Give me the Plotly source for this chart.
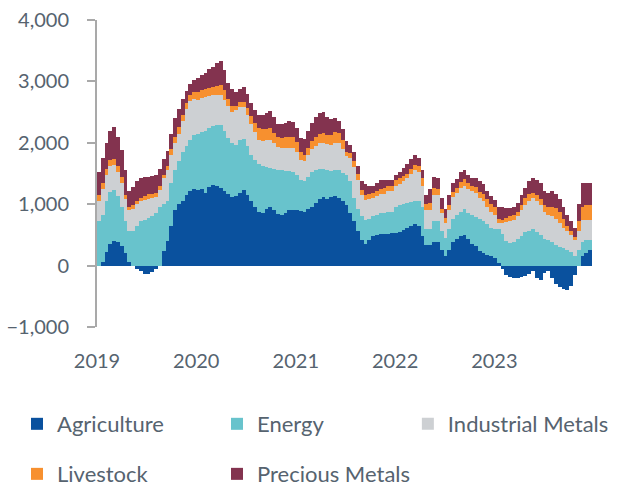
import pandas as pd
import plotly.graph_objects as go

# Biweekly readings, Jan 2019 - Dec 2023
dates = pd.date_range("2019-01-08", periods=130, freq="14D")

agriculture = [0, 60, 220, 350, 400, 380, 320, 200, 60, 0, -50, -90, -130, -140, -110, -60, 0, 230, 400, 650, 900, 1000, 1050, 1150, 1220, 1240,
               1230, 1240, 1190, 1280, 1320, 1300, 1260, 1220, 1160, 1120, 1130, 1190, 1230, 1150, 1050, 950, 880, 860, 930, 960, 900, 840, 830, 850, 900, 910,
               900, 890, 880, 920, 960, 1020, 1080, 1110, 1090, 1120, 1130, 1100, 1060, 990, 860, 720, 560, 420, 350, 420, 490, 500, 510, 510, 520, 530,
               530, 550, 580, 610, 640, 670, 640, 480, 340, 330, 390, 380, 250, 150, 250, 380, 430, 480, 500, 430, 360, 320, 230, 200, 180, 150,
               130, 40, -60, -150, -180, -200, -200, -190, -170, -130, -90, -200, -230, -120, -80, -200, -300, -350, -380, -390, -330, -150, 0, 150, 200, 250]

energy = [720, 760, 830, 850, 830, 750, 630, 520, 500, 560, 650, 720, 750, 780, 800, 860, 950, 770, 650, 700, 650, 700, 800, 800, 830, 880,
          920, 940, 1010, 960, 950, 990, 1030, 980, 920, 870, 840, 850, 840, 800, 750, 770, 770, 760, 670, 630, 670, 720, 720, 690, 640, 620,
          580, 510, 500, 530, 560, 540, 490, 460, 470, 420, 430, 460, 450, 480, 520, 380, 360, 380, 390, 340, 310, 330, 350, 350, 360, 340,
          420, 430, 420, 410, 400, 390, 410, 480, 260, 270, 330, 340, 310, 300, 350, 380, 390, 400, 420, 430, 460, 470, 530, 530, 500, 470,
          470, 550, 520, 400, 370, 380, 430, 490, 540, 570, 590, 550, 500, 440, 420, 390, 330, 300, 280, 260, 220, 160, 250, 240, 210, 170]

industrial_metals = [340, 430, 430, 420, 410, 400, 400, 360, 360, 370, 350, 325, 320, 310, 300, 260, 280, 420, 510, 450, 450, 450, 500, 600, 630, 600,
                     550, 550, 550, 530, 510, 490, 490, 500, 520, 510, 560, 540, 510, 500, 500, 460, 400, 410, 440, 460, 420, 370, 370, 380, 380, 380,
                     370, 320, 320, 350, 380, 390, 420, 430, 420, 420, 440, 430, 390, 320, 380, 500, 480, 350, 330, 320, 300, 300, 300, 310, 340, 340,
                     350, 350, 380, 400, 460, 500, 470, 340, 300, 300, 430, 430, 290, 250, 300, 360, 370, 380, 380, 380, 390, 390, 340, 330, 280, 250,
                     220, 110, 180, 310, 350, 360, 370, 410, 440, 480, 510, 500, 480, 440, 410, 410, 430, 400, 340, 300, 280, 260, 310, 360, 340, 330]

livestock = [90, 90, 100, 100, 90, 90, 90, 70, 30, 50, 60, 60, 70, 70, 70, 65, 60, 60, 60, 100, 100, 100, 100, 100, 100, 110,
             130, 130, 130, 130, 130, 140, 160, 160, 120, 100, 70, 80, 90, 110, 130, 150, 190, 190, 190, 190, 170, 160, 160, 170, 180, 190,
             170, 130, 100, 120, 130, 150, 160, 160, 140, 170, 180, 170, 150, 60, 80, 100, 100, 80, 80, 90, 90, 90, 90, 90, 80, 90,
             90, 90, 80, 80, 80, 80, 100, 120, 100, 120, 110, 90, 80, 70, 80, 80, 70, 100, 110, 100, 90, 100, 100, 100, 120, 130,
             130, 60, 40, 70, 80, 80, 80, 90, 120, 110, 90, 100, 100, 100, 130, 160, 180, 180, 140, 80, 60, 50, 160, 210, 230, 240]

precious_metals = [380, 410, 420, 480, 520, 480, 440, 400, 270, 300, 320, 325, 300, 290, 290, 295, 290, 250, 250, 250, 300, 300, 270, 200, 180, 190,
                   230, 240, 260, 300, 320, 380, 390, 320, 260, 280, 220, 220, 240, 230, 220, 210, 220, 230, 260, 270, 260, 220, 220, 240, 250, 240,
                   220, 230, 260, 280, 300, 320, 330, 340, 300, 250, 220, 200, 180, 180, 120, 150, 120, 150, 180, 120, 110, 130, 150, 130, 100, 90,
                   90, 100, 130, 160, 160, 160, 140, 140, 150, 230, 190, 180, 170, 150, 170, 150, 150, 160, 150, 130, 130, 140, 180, 170, 140, 130,
                   120, 200, 210, 160, 140, 140, 140, 160, 170, 210, 230, 250, 270, 240, 220, 260, 230, 200, 200, 180, 160, 150, 280, 380, 370, 350]

series_names = ["Agriculture", "Energy", "Industrial Metals", "Livestock", "Precious Metals"]
series_values = [agriculture, energy, industrial_metals, livestock, precious_metals]
series_colors = ["#0a519e", "#68c3cc", "#cdd0d3", "#f7902f", "#83334f"]
series_legends = ["legend", "legend", "legend3", "legend2", "legend2"]

year_ticks = ["2019-01-01", "2020-01-01", "2021-01-01", "2022-01-01", "2023-01-01"]
year_labels = ["2019", "2020", "2021", "2022", "2023"]

TEXT = "#56636f"
AXIS = "#a9a9a9"
FONT = "Lato"
bar_w = 14 * 24 * 3600 * 1000

fig = go.Figure()
for name, vals, col, lg in zip(series_names, series_values, series_colors, series_legends):
    fig.add_trace(go.Bar(
        x=dates, y=vals, name=name, width=bar_w,
        marker=dict(color=col, line=dict(width=0)),
        legend=lg,
    ))

leg_common = dict(orientation="h", xanchor="left", yanchor="middle",
                  font=dict(family=FONT, size=22, color=TEXT),
                  bgcolor="rgba(0,0,0,0)", entrywidth=155, traceorder="normal")

fig.update_layout(
    width=619, height=487,
    margin=dict(l=97, r=27, t=20, b=160, autoexpand=False),
    paper_bgcolor="white", plot_bgcolor="white",
    barmode="relative", bargap=0,
    font=dict(family=FONT, color=TEXT),
    legend=dict(x=-0.1616, y=-0.316, **leg_common),
    legend2=dict(x=-0.1616, y=-0.479, **leg_common),
    legend3=dict(x=0.628, y=-0.316, **leg_common),
    xaxis=dict(
        type="date", range=["2019-01-01", "2023-12-26"],
        tickvals=year_ticks, ticktext=year_labels,
        showline=False, ticks="", showgrid=False, zeroline=False,
        tickfont=dict(family=FONT, size=20, color=TEXT),
        ticklabelstandoff=20, automargin=False,
    ),
    xaxis2=dict(
        type="date", overlaying="x", matches="x", anchor="free", position=0.2,
        tickvals=year_ticks, showticklabels=False,
        showline=True, linecolor=AXIS, linewidth=2,
        ticks="outside", ticklen=8, tickwidth=2, tickcolor=AXIS,
        showgrid=False, zeroline=False,
    ),
    yaxis=dict(
        range=[-1000, 4000], dtick=1000, tickformat=",",
        showline=True, linecolor=AXIS, linewidth=2,
        ticks="outside", ticklen=8, tickwidth=2, tickcolor=AXIS,
        showgrid=False, zeroline=False,
        tickfont=dict(family=FONT, size=20, color=TEXT),
        ticklabelstandoff=14, automargin=False,
    ),
)

for v in series_values:
    assert len(v) == len(dates)

fig.write_html("out.html", config={"displayModeBar": False},
               post_script="document.body.style.margin='0';")
